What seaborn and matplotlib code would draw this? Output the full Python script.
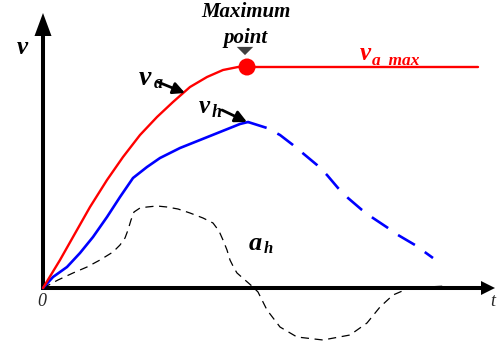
import matplotlib
matplotlib.use("Agg")
import matplotlib.pyplot as plt
from matplotlib.patches import FancyArrowPatch, Polygon
import seaborn as sns
import pandas as pd

sns.set_theme(style="white")
plt.rcParams["font.family"] = ["Liberation Serif", "DejaVu Serif"]

# ---- curves (time t, value) ----
va_t = [0, 17, 30, 47, 64, 80, 97, 114, 130, 147, 164, 180, 195, 204]
va_v = [0, 28, 51, 81, 108, 131, 153, 171, 186, 201, 211, 218, 221, 221]

va_max_t = [204, 435]
va_max_v = [221, 221]

vh_t = [0, 10, 24, 37, 50, 64, 77, 90, 104, 117, 137, 157, 177, 197, 205]
vh_v = [0, 11, 21, 35, 51, 71, 91, 110, 121, 130, 140, 148, 156, 164, 166]

vh_dec_t = [205, 224, 237, 250, 262, 274, 284, 295, 305, 319, 330, 345, 355, 372, 390]
vh_dec_v = [166, 160, 153, 143, 133, 123, 113, 100, 90, 78, 70, 60, 53, 43, 30]

ah_t = [0, 15, 30, 44, 57, 70, 77, 82, 85, 88, 91, 97, 104, 114, 124, 135, 147, 160,
        170, 176, 180, 184, 187, 191, 194, 202, 210, 215, 224, 237, 254, 280, 307,
        324, 337, 350, 364, 384, 404]
ah_v = [0, 8, 15, 21, 28, 36, 43, 50, 58, 68, 76, 80, 81, 82, 81, 79, 75, 70, 65, 57,
        48, 38, 28, 20, 15, 8, 1, -4, -22, -39, -49, -52, -47, -35, -19, -7, -1, 1, 2]

max_point_t = [204]
max_point_v = [221]

fig = plt.figure(figsize=(4.99, 3.43), dpi=100)
ax = fig.add_axes([0, 0, 1, 1])
ax.set_xlim(-43, 456)
ax.set_ylim(-55, 288)
ax.axis("off")

# ---- coordinate axes with arrow heads ----
ax.plot([-2, 439], [0, 0], color="black", lw=2.9, solid_capstyle="butt", zorder=2)
ax.plot([0, 0], [-2, 253], color="black", lw=2.9, solid_capstyle="butt", zorder=2)
ax.add_patch(Polygon([[452, 0], [438, 7], [438, -7]], closed=True,
                     facecolor="black", lw=0, zorder=2))
ax.add_patch(Polygon([[0, 275], [-8.5, 252], [8.5, 252]], closed=True,
                     facecolor="black", lw=0, zorder=2))

# ---- curves ----
smooth = dict(sort=False, estimator=None, solid_joinstyle="round",
              dash_joinstyle="round", ax=ax)
sns.lineplot(x=ah_t, y=ah_v, color="black", lw=0.9,
             linestyle=(0, (6.5, 4.5)), zorder=3, **smooth)
sns.lineplot(x=vh_dec_t, y=vh_dec_v, color="#0000ff",
             lw=1.9, linestyle=(0, (7.4, 4.6)), zorder=4, **smooth)
sns.lineplot(x=vh_t, y=vh_v, color="#0000ff", lw=1.9, zorder=4, **smooth)
sns.lineplot(x=va_t, y=va_v, color="#ff0000", lw=1.7, zorder=5, **smooth)
sns.lineplot(x=va_max_t, y=va_max_v, color="#ff0000", lw=1.7, zorder=5, **smooth)
sns.scatterplot(x=max_point_t, y=max_point_v, s=150, color="#ff0000",
                edgecolor="none", ax=ax, zorder=6)

# marker above maximum point
ax.scatter([202], [237], marker=[(-1, 0.5), (1, 0.5), (0, -0.5)], s=140,
           color="#404040", edgecolors="none", zorder=6)

# ---- labels ----
bi = dict(fontweight="bold", fontstyle="italic", color="black")
ax.text(203, 276, "Maximum", fontsize=15, ha="center", va="center", **bi)
ax.text(203, 250, "point", fontsize=15, ha="center", va="center", **bi)

ax.text(-21, 240, "v", fontsize=18, ha="center", va="center", **bi)
ax.text(-1, -13, "0", fontsize=13, fontstyle="italic", ha="center", va="center")
ax.text(450, -14, "t", fontsize=13, fontstyle="italic", ha="center", va="center")

ax.text(102, 203, "v", fontsize=20, ha="center", va="baseline", **bi)
ax.text(115, 200, "a", fontsize=13, ha="center", va="baseline", **bi)

ax.text(161, 175, "v", fontsize=18, ha="center", va="baseline", **bi)
ax.text(174, 171, "h", fontsize=13, ha="center", va="baseline", **bi)

ax.text(322, 228, "v", fontsize=18, ha="center", va="baseline",
        fontweight="bold", fontstyle="italic", color="#ff0000")
ax.text(329, 224, "a_max", fontsize=12.5, ha="left", va="baseline",
        fontweight="bold", fontstyle="italic", color="#ff0000")

ax.text(212, 38, "a", fontsize=19, ha="center", va="baseline", **bi)
ax.text(225, 35, "h", fontsize=12, ha="center", va="baseline", **bi)

# ---- pointer arrows ----
for start, end in [((115, 206), (142, 195)), ((179, 178), (204, 166))]:
    ax.add_patch(FancyArrowPatch(start, end, arrowstyle="-|>,head_length=7,head_width=3.5",
                                 mutation_scale=1, lw=2.0, color="black",
                                 shrinkA=0, shrinkB=0, zorder=7))

fig.savefig("out.png", dpi=100)
